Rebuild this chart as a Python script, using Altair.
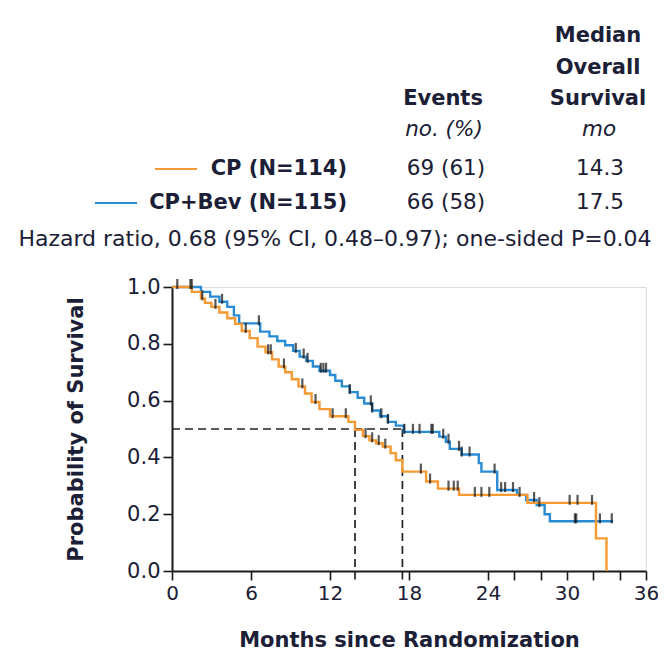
import altair as alt
import pandas as pd

# ---------------- data ----------------
groups = ["CP", "CP+Bev"]
colors = ["#F59A33", "#2A8BD5"]

cp_time = [0, 1.5, 2.2, 2.5, 3.0, 3.6, 4.2, 4.8, 5.3, 5.9, 6.5, 7.1, 7.6, 8.1, 8.6, 9.1, 9.6,
           10.1, 10.6, 11.2, 12.0, 13.4, 13.9, 14.5, 15.0, 15.5, 16.0, 16.6, 17.0, 17.5,
           19.3, 20.2, 21.8, 27.0, 32.2, 33.0]
cp_surv = [1.0, 0.983, 0.96, 0.944, 0.93, 0.91, 0.89, 0.87, 0.845, 0.82, 0.79, 0.77, 0.745,
           0.72, 0.70, 0.675, 0.65, 0.625, 0.595, 0.57, 0.545, 0.525, 0.497, 0.475, 0.46,
           0.45, 0.438, 0.415, 0.39, 0.35, 0.315, 0.29, 0.268, 0.24, 0.115, 0.0]

bev_time = [0, 2.2, 2.9, 3.6, 4.2, 4.7, 5.1, 6.7, 7.4, 8.0, 8.6, 9.2, 9.7, 10.2, 10.7, 11.2,
            12.0, 12.4, 12.9, 13.5, 14.1, 14.6, 15.2, 15.8, 16.4, 17.0, 17.6, 20.3, 20.8,
            21.1, 22.0, 23.3, 23.5, 24.7, 26.2, 26.9, 27.7, 28.3, 28.7, 33.5]
bev_surv = [1.0, 0.983, 0.966, 0.948, 0.93, 0.9, 0.872, 0.843, 0.826, 0.81, 0.795, 0.775,
            0.755, 0.74, 0.72, 0.705, 0.69, 0.67, 0.65, 0.63, 0.61, 0.59, 0.565, 0.545,
            0.525, 0.512, 0.49, 0.473, 0.455, 0.43, 0.41, 0.38, 0.35, 0.285, 0.268, 0.25,
            0.232, 0.20, 0.175, 0.175]

cp_censor = [2.3, 3.3, 5.6, 7.3, 7.5, 8.5, 9.9, 10.9, 12.2, 13.2, 14.7, 15.2, 15.7, 16.2,
             18.9, 19.6, 21.0, 21.4, 21.7, 23.0, 23.5, 24.1, 26.4, 30.2, 30.8, 31.9]
bev_censor = [0.4, 1.4, 1.5, 3.8, 6.6, 9.4, 10.0, 10.3, 11.3, 11.5, 11.7, 13.5, 15.1, 15.2,
              15.9, 16.4, 17.65, 18.3, 18.8, 19.7, 19.8, 20.6, 21.0, 21.8, 22.0, 22.6, 24.5,
              25.0, 25.3, 25.9, 27.5, 27.9, 30.6, 30.7, 32.5, 33.4]

median_level = 0.5
median_x = [13.9, 17.5]

x_ticks = [0, 6, 12, 18, 24, 26, 28, 30, 32, 34, 36]
y_ticks = [0, 0.2, 0.4, 0.6, 0.8, 1.0]

header_events = ["69 (61)", "66 (58)"]
header_median = ["14.3", "17.5"]
header_names = ["CP (N=114)", "CP+Bev (N=115)"]
hazard_text = "Hazard ratio, 0.68 (95% CI, 0.48\u20130.97); one-sided P=0.04"

# ---------------- tables ----------------
def lookup(times, survs, t):
    v = survs[0]
    for tt, ss in zip(times, survs):
        if tt <= t:
            v = ss
    return v

cp_df = pd.DataFrame({"time": cp_time, "surv": cp_surv, "group": groups[0]})
bev_df = pd.DataFrame({"time": bev_time, "surv": bev_surv, "group": groups[1]})
cens_df = pd.DataFrame({
    "time": cp_censor + bev_censor,
    "surv": [lookup(cp_time, cp_surv, t) for t in cp_censor]
            + [lookup(bev_time, bev_surv, t) for t in bev_censor],
})
hline_df = pd.DataFrame({"x": [0], "x2": [max(median_x)], "y": [median_level]})
vline_df = pd.DataFrame({"x": median_x, "y": [median_level] * 2, "y2": [-0.03] * 2})
one = pd.DataFrame({"a": [0]})

TXT = "#1b2036"
FONT = "DejaVu Sans"

xscale = alt.Scale(domain=[0, 36], nice=False, zero=False)
yscale = alt.Scale(domain=[0, 1], nice=False)

xaxis = alt.Axis(values=x_ticks, labelExpr="datum.value % 6 == 0 ? datum.label : ''",
                 format="d", title="Months since Randomization", grid=False,
                 tickSize=9, tickWidth=1.6, tickColor="#1a1a1a", domainWidth=2,
                 domainColor="#1a1a1a", labelFontSize=20, labelFont=FONT, labelColor=TXT,
                 labelPadding=3, labelFlush=False, titleFont=FONT, titleFontSize=21,
                 titleFontWeight="bold", titleColor=TXT, titlePadding=26)
yaxis = alt.Axis(values=y_ticks, format=".1f", title="Probability of Survival", grid=False,
                 tickSize=9, tickWidth=1.6, tickColor="#1a1a1a", domainWidth=2,
                 domainColor="#1a1a1a", labelFontSize=21, labelFont=FONT, labelColor=TXT,
                 labelPadding=3, labelFlush=False, titleFont=FONT, titleFontSize=21,
                 titleFontWeight="bold", titleColor=TXT, titlePadding=40)

base_x = alt.X("time:Q", scale=xscale, axis=xaxis)
base_y = alt.Y("surv:Q", scale=yscale, axis=yaxis)

bev_line = alt.Chart(bev_df).mark_line(interpolate="step-after", strokeWidth=2.4,
                                        color=colors[1]).encode(x=base_x, y=base_y)
cp_line = alt.Chart(cp_df).mark_line(interpolate="step-after", strokeWidth=2.4,
                                      color=colors[0]).encode(x=base_x, y=base_y)

ticks = alt.Chart(cens_df).mark_tick(orient="vertical", size=10, thickness=2.2,
                                     color="#111111", yOffset=-3).encode(
    x=alt.X("time:Q", scale=xscale), y=alt.Y("surv:Q", scale=yscale))

hline = alt.Chart(hline_df).mark_rule(strokeDash=[8, 5], strokeWidth=1.7,
                                      color="#222222").encode(
    x=alt.X("x:Q", scale=xscale), x2="x2:Q", y=alt.Y("y:Q", scale=yscale))
vline = alt.Chart(vline_df).mark_rule(strokeDash=[8, 5], strokeWidth=1.7,
                                      color="#222222").encode(
    x=alt.X("x:Q", scale=xscale), y=alt.Y("y:Q", scale=yscale), y2="y2:Q")


def label(text, x, y, align="center", weight="normal", style="normal", size=21.5):
    return alt.Chart(one).mark_text(text=text, align=align, baseline="middle",
                                    font=FONT, fontSize=size, fontWeight=weight,
                                    fontStyle=style, color=TXT).encode(
        x=alt.value(x), y=alt.value(y))


def swatch(x1, x2, y, color):
    return alt.Chart(one).mark_rule(color=color, strokeWidth=2).encode(
        x=alt.value(x1), x2=alt.value(x2), y=alt.value(y))


header = [
    label("Median", 426, -251, weight="bold", size=21),
    label("Overall", 426, -219, weight="bold", size=21),
    label("Survival", 426, -188, weight="bold", size=21),
    label("Events", 271, -188, weight="bold", size=21),
    label("no. (%)", 272, -157, style="italic"),
    label("mo", 427, -157, style="italic"),
    swatch(-17, 25, -118, colors[0]),
    label(header_names[0], 175, -118, align="right", weight="bold", size=21),
    label(header_events[0], 274, -118),
    label(header_median[0], 428, -118),
    swatch(-77, -35, -84, colors[1]),
    label(header_names[1], 175, -84, align="right", weight="bold", size=21),
    label(header_events[1], 274, -84),
    label(header_median[1], 428, -84),
    label(hazard_text, 163, -48, size=22),
]

chart = alt.layer(hline, vline, bev_line, cp_line, ticks, *header).properties(
    width=474, height=284,
    autosize=alt.AutoSizeParams(type="none"),
    padding={"left": 164, "top": 279, "right": 12, "bottom": 82},
).configure_view(stroke=None).configure(background="white")

chart.save("out.html", embed_options={"renderer": "svg", "actions": False})
